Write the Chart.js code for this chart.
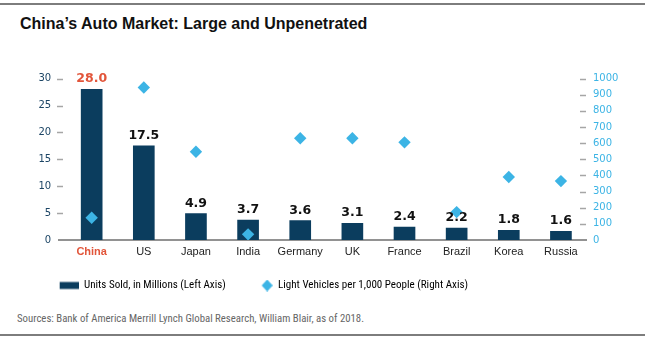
<!DOCTYPE html>
<html>
<head>
<meta charset="utf-8">
<script src="https://cdn.jsdelivr.net/npm/chart.js@4.4.1/dist/chart.umd.min.js"></script>
<style>
  html, body { margin: 0; padding: 0; background: #ffffff; }
  body { width: 645px; height: 340px; position: relative; overflow: hidden; }
  #topline { position: absolute; left: 0; top: 3px; width: 645px; height: 2px; background: #7d7d7d; }
  #botline { position: absolute; left: 0; top: 334px; width: 645px; height: 2px; background: #7d7d7d; }
  #title { position: absolute; left: 20px; top: 13.5px; line-height: 20px; white-space: nowrap;
           font-family: 'Liberation Sans', Arial, sans-serif; font-weight: bold; font-size: 16px; color: #111111; }
  #src { position: absolute; left: 17px; top: 312.3px; line-height: 12px; white-space: nowrap;
         font-family: 'Liberation Sans', Arial, sans-serif; font-size: 11.5px; color: #666666; transform-origin: 0 50%; }
  #wrap { position: absolute; left: 0; top: 0; width: 645px; height: 305px; }
</style>
</head>
<body>
<div id="topline"></div>
<div id="title">China’s Auto Market: Large and Unpenetrated</div>
<div id="wrap"><canvas id="c" width="645" height="305"></canvas></div>
<div id="src"><span id="srct">Sources: Bank of America Merrill Lynch Global Research, William Blair, as of 2018.</span></div>
<div id="botline"></div>
<script>
// ---- data ----
const categories = ['China', 'US', 'Japan', 'India', 'Germany', 'UK', 'France', 'Brazil', 'Korea', 'Russia'];
const unitsSold = [28.0, 17.5, 4.9, 3.7, 3.6, 3.1, 2.4, 2.2, 1.8, 1.6];
const vehiclesPer1000 = [138, 945, 547, 35, 630, 630, 605, 173, 390, 365];
const leftTicks = [0, 5, 10, 15, 20, 25, 30];
const rightTicks = [0, 100, 200, 300, 400, 500, 600, 700, 800, 900, 1000];
const seriesNames = ['Units Sold, in Millions (Left Axis)', 'Light Vehicles per 1,000 People (Right Axis)'];

// ---- styles ----
const NAVY = '#0b3d5e';
const LIGHT = '#3cb4e5';
const ORANGE = '#e2553a';
const SANS = "'Liberation Sans', Arial, sans-serif";
const DEJAVU = "'DejaVu Sans', Verdana, sans-serif";

// pick a narrow face if one is installed, else the regular sans
const mctx = document.createElement('canvas').getContext('2d');
function textW(font, s) { mctx.font = font; return mctx.measureText(s).width; }
const probe = seriesNames[0];
const baseW = textW("20px 'Liberation Sans'", probe);
const narrowCands = ['Liberation Sans Narrow', 'Arial Narrow', 'DejaVu Sans Condensed', 'Roboto Condensed',
  'Open Sans Condensed', 'Noto Sans Condensed', 'Nimbus Sans Narrow', 'Source Sans Pro', 'Source Sans 3', 'PT Sans Narrow'];
let NARROW = null;
for (const f of narrowCands) {
  const a = textW(`20px '${f}', monospace`, probe), b = textW(`20px '${f}', serif`, probe);
  if (Math.abs(a - b) < 0.01 && a < baseW * 0.9) { NARROW = `'${f}', ${SANS}`; break; }
}
const LEG_FAMILY = NARROW || SANS;
let legSize = 12 * 142 / textW(`12px ${LEG_FAMILY}`, seriesNames[0]);
legSize = Math.max(10.5, Math.min(12.5, legSize));
const legW1 = textW(`${legSize}px ${LEG_FAMILY}`, seriesNames[0]);

// sources text: narrow if available, otherwise squeeze horizontally
const srcEl = document.getElementById('src');
const srcT = document.getElementById('srct');
srcEl.style.fontFamily = LEG_FAMILY;
const srcW = srcT.getBoundingClientRect().width;
srcEl.style.transform = `scaleX(${(347 / srcW).toFixed(4)})`;

// ---- legend / layout geometry ----
const LEG_PAD = 10;
const TEXT1_X = 84, TEXT2_X = 278;
const GAP = legSize / 2;
const BOXW = Math.max(24, TEXT2_X - TEXT1_X - legW1 - LEG_PAD - GAP);
const padLeft = TEXT1_X - GAP - BOXW - LEG_PAD;
const itemH = Math.max(legSize, 7);
const legTop = 285.5 - legSize / 2 - LEG_PAD;
const legH = itemH + LEG_PAD + 10;
const padBottom = 305 - (legTop + legH);
const PLOT_LEFT = 65.6, PLOT_TOP = 78.6, PLOT_BOTTOM = 240;

// legend marker images (mark drawn at the right end of the legend box)
function markerImage(draw) {
  const cv = document.createElement('canvas');
  cv.width = Math.round(BOXW); cv.height = 12;
  draw(cv.getContext('2d'), cv.width);
  return cv;
}
const barMark = markerImage((g, w) => { g.fillStyle = NAVY; g.fillRect(w - 19, 2.5, 19, 7); });
const diaMark = markerImage((g, w) => {
  g.fillStyle = LIGHT;
  g.beginPath();
  g.moveTo(w - 11, 6); g.lineTo(w - 5.5, 0); g.lineTo(w, 6); g.lineTo(w - 5.5, 12);
  g.closePath(); g.fill();
});

const decorPlugin = {
  id: 'decor',
  beforeDatasetsDraw(chart) {
    const ctx = chart.ctx, ca = chart.chartArea;
    const y = chart.scales.y, y1 = chart.scales.y1;
    ctx.save();
    ctx.strokeStyle = '#a6a6a6';
    ctx.lineWidth = 1.5;
    y.ticks.forEach(t => {
      if (t.value === 0) return;
      const py = Math.round(y.getPixelForValue(t.value)) + 0.5;
      ctx.beginPath(); ctx.moveTo(ca.left - 8.6, py); ctx.lineTo(ca.left - 2.6, py); ctx.stroke();
    });
    y1.ticks.forEach(t => {
      if (t.value === 0) return;
      const py = Math.round(y1.getPixelForValue(t.value)) + 0.5;
      ctx.beginPath(); ctx.moveTo(ca.right - 7, py); ctx.lineTo(ca.right - 1, py); ctx.stroke();
    });
    const by = y.getPixelForValue(0);
    ctx.strokeStyle = '#6e6e6e';
    ctx.lineWidth = 1.3;
    ctx.beginPath(); ctx.moveTo(ca.left - 7.6, by); ctx.lineTo(ca.right, by); ctx.stroke();
    ctx.restore();
  },
  afterDatasetsDraw(chart) {
    const ctx = chart.ctx;
    const meta = chart.getDatasetMeta(0);
    ctx.save();
    ctx.font = 'bold 12.5px ' + DEJAVU;
    ctx.textAlign = 'center';
    ctx.textBaseline = 'alphabetic';
    meta.data.forEach((el, i) => {
      ctx.fillStyle = i === 0 ? ORANGE : '#111111';
      ctx.fillText(unitsSold[i].toFixed(1), el.x, el.y - 7);
    });
    ctx.restore();
  }
};

new Chart(document.getElementById('c'), {
  type: 'bar',
  data: {
    labels: categories,
    datasets: [
      {
        label: seriesNames[0],
        data: unitsSold,
        backgroundColor: NAVY,
        borderWidth: 0,
        barThickness: 21,
        yAxisID: 'y',
        order: 1
      },
      {
        type: 'line',
        label: seriesNames[1],
        data: vehiclesPer1000,
        showLine: false,
        pointStyle: 'rectRot',
        pointRadius: 6.2,
        pointHoverRadius: 6.2,
        pointBackgroundColor: LIGHT,
        pointBorderWidth: 0,
        backgroundColor: LIGHT,
        borderColor: LIGHT,
        yAxisID: 'y1',
        order: 0
      }
    ]
  },
  options: {
    responsive: false,
    animation: false,
    devicePixelRatio: 1,
    layout: { padding: { left: padLeft, right: 0, top: PLOT_TOP, bottom: padBottom } },
    plugins: {
      tooltip: { enabled: false },
      title: { display: false },
      legend: {
        display: true,
        position: 'bottom',
        align: 'start',
        labels: {
          usePointStyle: true,
          pointStyleWidth: BOXW,
          boxHeight: 7,
          padding: LEG_PAD,
          color: '#222222',
          font: { family: LEG_FAMILY, size: legSize },
          generateLabels: () => [
            { text: seriesNames[0], fillStyle: NAVY, strokeStyle: NAVY, lineWidth: 0, pointStyle: barMark, datasetIndex: 0, hidden: false },
            { text: seriesNames[1], fillStyle: LIGHT, strokeStyle: LIGHT, lineWidth: 0, pointStyle: diaMark, datasetIndex: 1, hidden: false }
          ]
        }
      }
    },
    scales: {
      x: {
        type: 'category',
        offset: true,
        grid: { display: false, drawTicks: false },
        border: { display: false },
        ticks: {
          padding: 5,
          autoSkip: false,
          maxRotation: 0,
          minRotation: 0,
          color: (c) => c.index === 0 ? ORANGE : '#222222',
          font: (c) => c.index === 0 ? { family: SANS, size: 11, weight: 'bold' } : { family: SANS, size: 11 }
        },
        afterFit: (s) => { s.height = legTop - PLOT_BOTTOM; }
      },
      y: {
        position: 'left',
        min: 0, max: 30,
        afterBuildTicks: (s) => { s.ticks = leftTicks.map(v => ({ value: v })); },
        grid: { display: false, drawTicks: false },
        border: { display: false },
        ticks: { padding: 14.5, color: '#1c4565', font: { family: DEJAVU, size: 10 } },
        afterFit: (s) => { s.width = PLOT_LEFT - padLeft; }
      },
      y1: {
        position: 'right',
        min: 0, max: 1000,
        afterBuildTicks: (s) => { s.ticks = rightTicks.map(v => ({ value: v })); },
        grid: { display: false, drawTicks: false },
        border: { display: false },
        ticks: { padding: 6, color: LIGHT, font: { family: DEJAVU, size: 10 }, callback: (v) => String(v) },
        afterFit: (s) => { s.width = 58; }
      }
    }
  },
  plugins: [decorPlugin]
});
</script>
</body>
</html>
